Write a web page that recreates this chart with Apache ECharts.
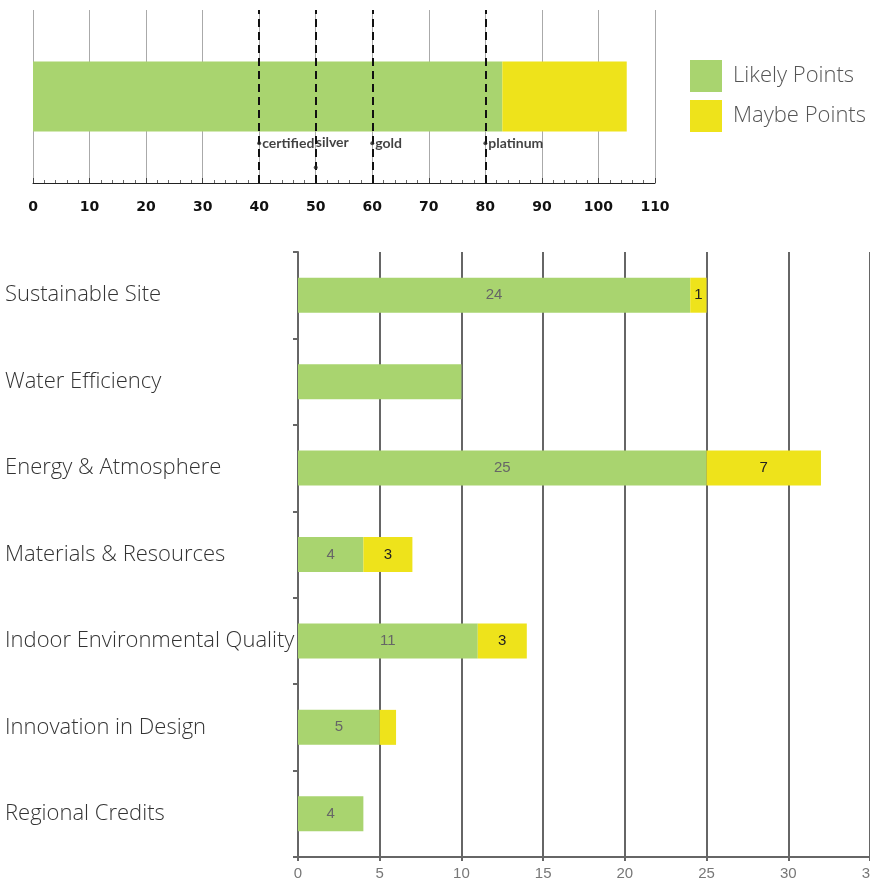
<!DOCTYPE html>
<html>
<head>
<meta charset="utf-8">
<script src="https://cdn.jsdelivr.net/npm/echarts@6/dist/echarts.min.js"></script>
<style>
  html, body { margin: 0; padding: 0; background: #fff; }
  #chart { width: 870px; height: 885px; }
</style>
</head>
<body>
<div id="chart"></div>
<script>
// Overall score (top bar)
const totalLikely = 83;
const totalMaybe = 22;
const totalTicks = [0, 10, 20, 30, 40, 50, 60, 70, 80, 90, 100, 110];

// Certification thresholds
const levelNames = ['certified', 'silver', 'gold', 'platinum'];
const levelPoints = [40, 50, 60, 80];

// Per-category points (bottom chart)
const categories = [
  'Sustainable Site',
  'Water Efficiency',
  'Energy & Atmosphere',
  'Materials & Resources',
  'Indoor Environmental Quality',
  'Innovation in Design',
  'Regional Credits'
];
const likelyPoints = [24, 10, 25, 4, 11, 5, 4];
const maybePoints = [1, 0, 7, 3, 3, 1, 0];
const categoryTicks = [0, 5, 10, 15, 20, 25, 30, 35];

// Labels that are not printed on the bars
const hideLikelyLabel = ['Water Efficiency'];
const hideMaybeLabel = ['Innovation in Design'];

const GREEN = '#a9d46f';
const YELLOW = '#eee31b';
const LIGHT_FONT = '"Open Sans", Lato, "DejaVu Sans", sans-serif';

const chart = echarts.init(document.getElementById('chart'), null, { renderer: 'canvas' });

const likelyData = likelyPoints.map((v, i) => ({
  value: v,
  label: { show: v > 0 && !hideLikelyLabel.includes(categories[i]) }
}));
const maybeData = maybePoints.map((v, i) => ({
  value: v,
  label: { show: v > 0 && !hideMaybeLabel.includes(categories[i]) }
}));

// Threshold markers: dot + name just below the top bar
const levelMarkerY = [0.23, 0.09, 0.23, 0.23];
const levelData = levelPoints.map((p, i) => ({
  value: [p, levelMarkerY[i]],
  label: i === 1 ? { offset: [-3, -25] } : {}
}));

chart.setOption({
  animation: false,
  backgroundColor: '#fff',
  legend: {
    orient: 'vertical',
    left: 690,
    top: 60,
    padding: 0,
    itemWidth: 32,
    itemHeight: 32,
    itemGap: 8,
    icon: 'rect',
    data: ['Likely Points', 'Maybe Points'],
    textStyle: { fontSize: 22, color: '#555', fontFamily: LIGHT_FONT, fontWeight: 300, padding: [5, 0, 0, 6] }
  },
  grid: [
    { left: 33, top: 10, width: 622, height: 173, containLabel: false, outerBoundsMode: 'none' },
    { left: 298, width: 572, top: 252, bottom: 28, containLabel: false, outerBoundsMode: 'none' }
  ],
  xAxis: [
    {
      gridIndex: 0,
      type: 'value',
      min: 0,
      max: 110,
      interval: 10,
      axisLine: { show: true, lineStyle: { color: '#222', width: 1 } },
      axisTick: { show: true, inside: true, length: 5, lineStyle: { color: '#444' } },
      minorTick: { show: true, splitNumber: 5, length: 3, lineStyle: { color: '#666' } },
      splitLine: { show: true, lineStyle: { color: '#aaa', width: 1 } },
      axisLabel: {
        margin: 17,
        fontSize: 14,
        fontWeight: 'bold',
        color: '#111',
        fontFamily: '"DejaVu Sans", sans-serif',
        customValues: totalTicks
      }
    },
    {
      gridIndex: 1,
      type: 'value',
      min: 0,
      max: 35,
      interval: 5,
      axisLine: { show: true, lineStyle: { color: '#666', width: 2 } },
      axisTick: { show: true, length: 4, lineStyle: { color: '#666', width: 2 } },
      splitLine: { show: true, lineStyle: { color: '#666', width: 2 } },
      axisLabel: {
        margin: 9,
        fontSize: 15,
        color: '#777',
        fontFamily: 'Arial, "Liberation Sans", sans-serif',
        customValues: categoryTicks
      }
    }
  ],
  yAxis: [
    {
      gridIndex: 0,
      type: 'category',
      data: ['Total'],
      show: false
    },
    {
      gridIndex: 0,
      type: 'value',
      min: 0,
      max: 1,
      show: false
    },
    {
      gridIndex: 1,
      type: 'category',
      inverse: true,
      data: categories,
      axisLine: { show: true, lineStyle: { color: '#666', width: 2 } },
      axisTick: { show: true, length: 5, lineStyle: { color: '#666', width: 2 } },
      splitLine: { show: false },
      axisLabel: {
        align: 'left',
        margin: 293,
        fontSize: 22,
        fontWeight: 300,
        color: '#333',
        fontFamily: LIGHT_FONT,
        padding: [0, 0, 7, 0]
      }
    }
  ],
  series: [
    {
      name: 'Likely Points',
      type: 'bar',
      xAxisIndex: 0,
      yAxisIndex: 0,
      stack: 'total',
      barWidth: 70,
      itemStyle: { color: GREEN },
      data: [totalLikely]
    },
    {
      name: 'Maybe Points',
      type: 'bar',
      xAxisIndex: 0,
      yAxisIndex: 0,
      stack: 'total',
      barWidth: 70,
      itemStyle: { color: YELLOW },
      data: [totalMaybe]
    },
    {
      name: 'levels',
      type: 'scatter',
      xAxisIndex: 0,
      yAxisIndex: 1,
      symbol: 'circle',
      symbolSize: 4,
      itemStyle: { color: '#222' },
      label: {
        show: true,
        position: 'right',
        distance: 1,
        fontSize: 14,
        fontWeight: 'bold',
        color: '#111',
        fontFamily: 'Lato, "DejaVu Sans", sans-serif',
        formatter: p => levelNames[p.dataIndex]
      },
      data: levelData,
      markLine: {
        silent: true,
        symbol: 'none',
        label: { show: false },
        lineStyle: { color: '#111', type: [8, 5], width: 2 },
        data: levelPoints.map(p => ({ xAxis: p }))
      },
      z: 5
    },
    {
      name: 'Likely Points',
      type: 'bar',
      xAxisIndex: 1,
      yAxisIndex: 2,
      stack: 'cat',
      barWidth: 35,
      itemStyle: { color: GREEN },
      label: { position: 'inside', fontSize: 15, color: '#666', fontFamily: 'Arial, sans-serif' },
      data: likelyData
    },
    {
      name: 'Maybe Points',
      type: 'bar',
      xAxisIndex: 1,
      yAxisIndex: 2,
      stack: 'cat',
      barWidth: 35,
      itemStyle: { color: YELLOW },
      label: { position: 'inside', fontSize: 15, color: '#222', fontFamily: 'Arial, sans-serif' },
      data: maybeData
    }
  ]
});
</script>
</body>
</html>
